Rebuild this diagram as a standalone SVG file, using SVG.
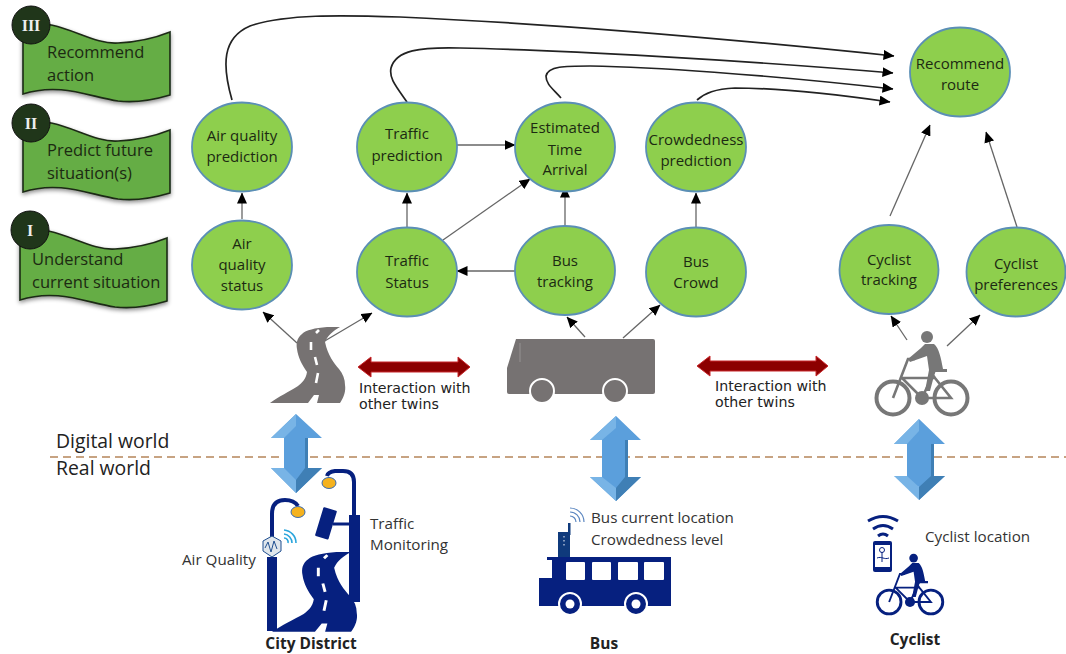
<svg xmlns="http://www.w3.org/2000/svg" width="1066" height="654" viewBox="0 0 1066 654">
<style>
text{font-family:"Open Sans","Noto Sans","Liberation Sans",sans-serif;font-size:15px;fill:#1c2a12}
.n text{text-anchor:middle}
.n ellipse{fill:#8ecf4d;stroke:#5b8fb5;stroke-width:1.8}
.flag{fill:#65ad45;stroke:#1d2a16;stroke-width:1.6;filter:url(#sh)}
.ft{font-size:16.500px}
.badge circle{fill:#20361a;stroke:#111;stroke-width:1}
.badge text{fill:#eee;font-family:"Liberation Serif",serif;font-size:16px;font-weight:bold;text-anchor:middle}
.s{fill:none;stroke:#666;stroke-width:1.3;marker-end:url(#a)}
.c{fill:none;stroke:#222;stroke-width:1.7;marker-end:url(#a)}
.lab{font-size:15.200px;fill:#333}
.tw{font-family:"DejaVu Sans",sans-serif;font-size:14.200px;fill:#222}
.b{font-weight:bold;font-size:15.500px;fill:#222;text-anchor:middle}
.w{font-size:19.400px;fill:#222}
.dbl{fill:#5b9fdc}
.dk{fill:#3f7fb5}
.lt{fill:#78b4e6}
.red{fill:#8c0000;stroke:#c8272b;stroke-width:1}
.navy{fill:#06207f}
.grey{fill:#767272}
.wifi{fill:none}
</style>
<defs>
<filter id="sh" x="-10%" y="-10%" width="120%" height="125%"><feDropShadow dx="0" dy="2" stdDeviation="2" flood-color="#000" flood-opacity=".45"/></filter>
<marker id="a" markerUnits="userSpaceOnUse" markerWidth="11" markerHeight="10" refX="10.500" refY="5" orient="auto"><path d="M0,0L11,5L0,10z" fill="#000"/></marker>
<path id="flag" d="M23,24C60,18 90,45 118,43C140,42 155,38 170,32L170,95C150,101 135,103 118,101C90,97 60,82 23,94Z"/>
<path id="road" d="M70,0L57,0C45,1 36,3 32,7C27,11 26,16 27,22C28,30 32,38 37,45C36,52 32,56 28,59C20,64 8,70 0,76L38,76L44,68L49,68L47,76L70,76C74,70 76,64 75,58C75,52 73,47 69,42C64,36 58,29 55,15C58,8 63,4 70,0Z"/>
<path id="dashes" d="M49,3l-3,3M41,15l0,8M45,30l2,8M48,46l-2,10" fill="none" stroke="#fff" stroke-width="2.600"/>
<g id="bike">
<circle cx="-29" cy="0" r="16.500" fill="none" stroke="currentColor" stroke-width="4"/>
<circle cx="29" cy="0" r="16.500" fill="none" stroke="currentColor" stroke-width="4"/>
<circle cx="0" cy="0" r="7" fill="currentColor"/>
<path d="M-29,0L-14,-39L-7,-39M-20,-20L13,-20M-20,-20L0,0L29,0L13,-20L8,-27M0,0L13,-28" fill="none" stroke="currentColor" stroke-width="2.600"/>
<circle cx="5" cy="-61" r="6" fill="currentColor"/>
<path d="M3,-54L12,-54C17,-50 19,-40 21,-29L25,-29L25,-26L13,-26L8,-7L3,-7L7,-28L5,-42L-12,-36L-14,-39L-1,-50Z" fill="currentColor"/>
</g>
</defs>

<g id="world-divider">
<path d="M50,457H1066" stroke="#b5855a" stroke-width="1.600" stroke-dasharray="8 5" fill="none"/>
<text class="w" x="56" y="448">Digital world</text>
<text class="w" x="56" y="475">Real world</text>
</g>

<g id="level-3"><use href="#flag" class="flag"/><text class="ft" x="47" y="58">Recommend</text><text class="ft" x="47" y="81">action</text>
<g class="badge"><circle cx="31" cy="25" r="19"/><text x="31" y="31">III</text></g></g>
<g id="level-2"><use href="#flag" class="flag" y="98"/><text class="ft" x="47" y="156">Predict future</text><text class="ft" x="47" y="179">situation(s)</text>
<g class="badge"><circle cx="31" cy="123" r="19"/><text x="31" y="129">II</text></g></g>
<g id="level-1"><use href="#flag" class="flag" x="-3" y="206"/><text class="ft" x="32" y="265">Understand</text><text class="ft" x="32" y="288">current situation</text>
<g class="badge"><circle cx="30" cy="230" r="19"/><text x="30" y="236">I</text></g></g>

<g id="connectors">
<path class="s" d="M242,219V193"/>
<path class="s" d="M407,227V193"/>
<path class="s" d="M443,240L530,179"/>
<path class="s" d="M457,145H515"/>
<path class="s" d="M565,225V187"/>
<path class="s" d="M515,271H457"/>
<path class="s" d="M696,227V193"/>
<path class="s" d="M297,343L263,312"/>
<path class="s" d="M323,342L372,313"/>
<path class="s" d="M585,337L567,317"/>
<path class="s" d="M623,338L660,305"/>
<path class="s" d="M907,340L891,316"/>
<path class="s" d="M947,346L980,315"/>
<path class="s" d="M890,216L930,125"/>
<path class="s" d="M1017,227L986,132"/>
<path class="c" d="M232,100C222,65 222,38 250,26C285,14 340,15 400,17C560,24 740,40 894,56"/>
<path class="c" d="M407,102C395,85 389,78 391,68C396,50 420,47 460,48C560,50 740,60 893,73"/>
<path class="c" d="M561,98C552,88 546,84 546,76C548,66 565,66 590,66C650,67 760,74 893,89"/>
<path class="c" d="M697,100C705,93 715,89 735,88C780,88 840,95 890,102"/>
</g>

<g id="air-prediction" class="n"><ellipse cx="242" cy="147" rx="50" ry="44.500"/><text x="242" y="141">Air quality</text><text x="242" y="162">prediction</text></g>
<g id="air-status" class="n"><ellipse cx="242" cy="265" rx="50" ry="44.500"/><text x="242" y="249">Air</text><text x="242" y="270">quality</text><text x="242" y="291">status</text></g>
<g id="traffic-prediction" class="n"><ellipse cx="407" cy="147" rx="50" ry="44.500"/><text x="407" y="139">Traffic</text><text x="407" y="161">prediction</text></g>
<g id="traffic-status" class="n"><ellipse cx="407" cy="272" rx="50" ry="44.500"/><text x="407" y="266">Traffic</text><text x="407" y="288">Status</text></g>
<g id="eta" class="n"><ellipse cx="565" cy="147" rx="50" ry="44.500"/><text x="565" y="133">Estimated</text><text x="565" y="155">Time</text><text x="565" y="175">Arrival</text></g>
<g id="bus-tracking" class="n"><ellipse cx="565" cy="270.500" rx="50" ry="44.500"/><text x="565" y="266">Bus</text><text x="565" y="287">tracking</text></g>
<g id="crowd-prediction" class="n"><ellipse cx="696" cy="147" rx="50" ry="44.500"/><text x="696" y="145">Crowdedness</text><text x="696" y="166">prediction</text></g>
<g id="bus-crowd" class="n"><ellipse cx="696" cy="272" rx="50" ry="44.500"/><text x="696" y="267">Bus</text><text x="696" y="288">Crowd</text></g>
<g id="recommend-route" class="n"><ellipse cx="960" cy="72" rx="50" ry="44.500"/><text x="960" y="69">Recommend</text><text x="960" y="90">route</text></g>
<g id="cyclist-tracking" class="n"><ellipse cx="889" cy="269.500" rx="49.500" ry="44.500"/><text x="889" y="265">Cyclist</text><text x="889" y="285">tracking</text></g>
<g id="cyclist-preferences" class="n"><ellipse cx="1016" cy="272" rx="49.500" ry="44.500"/><text x="1016" y="269">Cyclist</text><text x="1016" y="290">preferences</text></g>

<g id="road-twin"><use href="#road" x="270" y="327" class="grey"/><use href="#dashes" x="270" y="327"/></g>

<g id="bus-twin">
<path class="grey" d="M516,339H653Q655,339 655,341V392Q655,394 653,394H509Q507,394 507,392V368Z"/>
<path d="M520,343V362" stroke="#918d8d" stroke-width="1.200" fill="none"/>
<circle cx="542" cy="391" r="12" class="grey" stroke="#fff" stroke-width="2"/>
<circle cx="615" cy="391" r="12" class="grey" stroke="#fff" stroke-width="2"/>
</g>

<g id="cyclist-twin" color="#777"><use href="#bike" x="922" y="398"/></g>

<g id="interaction-left">
<path class="red" d="M358,367L371,357V362H458V357L470,367L458,377V372H371V377Z"/>
<text class="tw" x="359" y="393">Interaction with</text><text class="tw" x="359" y="409">other twins</text>
</g>
<g id="interaction-right">
<path class="red" d="M697,366L710,356V361H816V356L828,366L816,376V371H710V376Z"/>
<text class="tw" x="715" y="391">Interaction with</text><text class="tw" x="715" y="407">other twins</text>
</g>

<g id="link-road">
<path class="dbl" d="M296,414L322,438H308V468H322L296,493L271,468H284V438H271Z"/>
<path class="lt" d="M296,414L271,438H284L296,426Z"/><path class="dk" d="M305,438H308V468H322L296,493L296,480L305,468Z"/><path class="lt" d="M271,468H284L296,480V493Z"/>
</g>
<g id="link-bus">
<path class="dbl" d="M616,416L641,440H628V477H641L616,501L590,477H602V440H590Z"/>
<path class="lt" d="M616,416L590,440H602L616,428Z"/><path class="dk" d="M625,440H628V477H641L616,501L616,488L625,477Z"/><path class="lt" d="M590,477H602L616,488V501Z"/>
</g>
<g id="link-cyclist">
<path class="dbl" d="M919,419L945,444H934V476H945L919,500L919,487L894,476H907V444H894Z"/>
<path class="lt" d="M919,419L894,444H907L919,431Z"/><path class="dk" d="M931,444H934V476H945L919,500L919,487L931,476Z"/><path class="lt" d="M894,476H907L919,487V500Z"/>
</g>

<g id="city-district">
<use href="#road" transform="translate(272,552) scale(1.13,1.05)" class="navy"/>
<use href="#dashes" transform="translate(272,552) scale(1.13,1.05)"/>
<rect class="navy" x="267" y="557" width="10" height="74"/>
<path d="M272,548V514Q272,500 285,500Q294,500 298,506" fill="none" stroke="#06207f" stroke-width="4"/>
<ellipse cx="298" cy="512" rx="7" ry="5.500" fill="#f5b21e" stroke="#3a6bb0"/>
<rect class="navy" x="349" y="515" width="11" height="87"/>
<path d="M354,515V482Q354,471 343,471H335Q328,472 327,476" fill="none" stroke="#06207f" stroke-width="4"/>
<ellipse cx="329" cy="483" rx="7" ry="5.500" fill="#f5b21e" stroke="#3a6bb0"/>
<rect class="navy" x="319" y="508" width="14" height="30" rx="1" transform="rotate(17 325 523)"/>
<path d="M333,524H349" stroke="#06207f" stroke-width="3"/>
<path d="M272,536L281,541V551L272,557L263,551V541Z" fill="#dfe6ec" stroke="#1e4e90" stroke-width="1"/>
<path d="M265,548L268,542L271,552L274,541L277,549" fill="none" stroke="#1e4e90" stroke-width="1"/>
<g class="wifi" stroke="#2aa5dc" stroke-width="1.600"><path d="M284,538A4,4 0 0 1 288,543"/><path d="M284,534A9,9 0 0 1 292,543"/><path d="M284,530A13,13 0 0 1 296,543"/></g>
<text class="lab" x="182" y="565">Air Quality</text>
<text class="lab" x="370" y="529">Traffic</text>
<text class="lab" x="370" y="550">Monitoring</text>
<text class="b" x="311" y="649">City District</text>
</g>

<g id="bus-real">
<path class="navy" d="M547,557H671V606H539V578H552V560H547Z"/>
<g fill="#fff"><rect x="566" y="562" width="19" height="18" rx="1"/><rect x="592" y="562" width="19" height="18" rx="1"/><rect x="618" y="562" width="20" height="18" rx="1"/><rect x="644" y="562" width="20" height="18" rx="1"/></g>
<circle cx="570" cy="604" r="11" class="navy" stroke="#fff" stroke-width="2"/><circle cx="570" cy="604" r="4.500" fill="#fff"/>
<circle cx="636" cy="604" r="11" class="navy" stroke="#fff" stroke-width="2"/><circle cx="636" cy="604" r="4.500" fill="#fff"/>
<rect x="558" y="532" width="12" height="25" fill="#0f3a7c"/><rect x="568" y="523" width="2.500" height="12" fill="#0f3a7c"/>
<path d="M564,536v12" stroke="#cfd8e8" stroke-width="1.200" stroke-dasharray="1.500 2.500"/>
<g class="wifi" stroke="#5b86c0" stroke-width="1.200"><path d="M570,516A6,6 0 0 1 576,522"/><path d="M570,512A10,10 0 0 1 580,522"/><path d="M570,508A14,14 0 0 1 584,522"/></g>
<text class="lab" x="591" y="523">Bus current location</text>
<text class="lab" x="591" y="545">Crowdedness level</text>
<text class="b" x="604" y="649">Bus</text>
</g>

<g id="cyclist-real" color="#06207f">
<use href="#bike" transform="translate(910,602) scale(.72)"/>
<rect x="873" y="541" width="19" height="31" rx="2" class="navy"/>
<rect x="875" y="545" width="15" height="22" fill="#fff"/>
<path d="M882,562V552M877,558C882,556 884,560 889,558" fill="none" stroke="#06207f" stroke-width="1"/>
<circle cx="882" cy="550" r="2.500" fill="none" stroke="#06207f" stroke-width="1"/>
<g class="wifi" stroke="#06207f" stroke-width="3"><path d="M868,521Q883,512 898,521"/><path d="M873,529Q883,522 893,529"/><path d="M878,536Q883,532 888,536"/></g>
<text class="lab" x="925" y="542">Cyclist location</text>
<text class="b" x="915" y="645">Cyclist</text>
</g>
</svg>
